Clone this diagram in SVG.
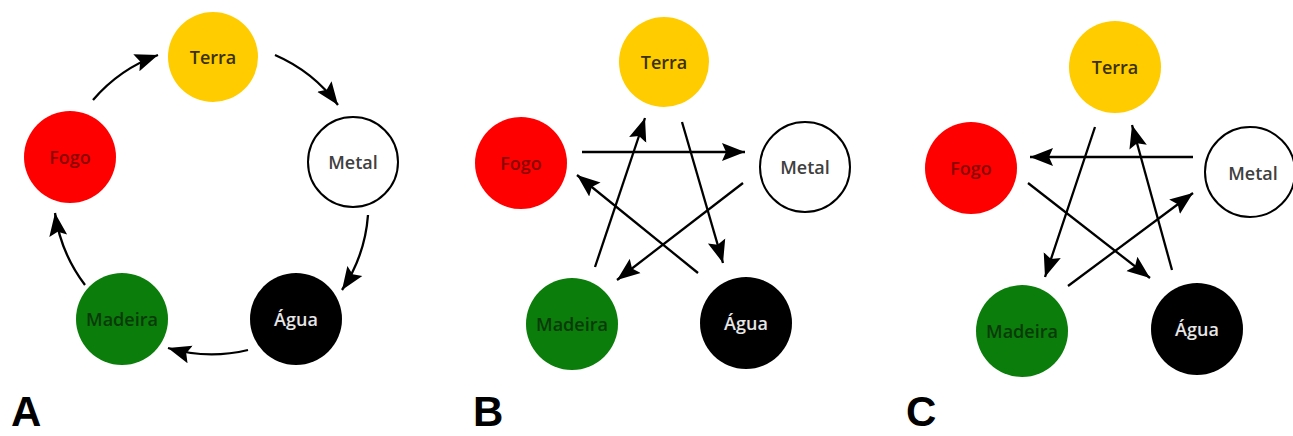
<svg xmlns="http://www.w3.org/2000/svg" width="1293" height="436" viewBox="0 0 1293 436">
<defs>
<marker id="ah" markerUnits="userSpaceOnUse" markerWidth="24" markerHeight="20" viewBox="0 0 24 20" refX="23" refY="10" orient="auto">
<path d="M0,1 L23,10 L0,19 L4,10 Z" fill="#000"/>
</marker>
</defs>
<style>
.n circle{stroke:none}
.terra{fill:#FFCC00}
.fogo{fill:#FF0000}
.metal{fill:#fff;stroke:#000 !important;stroke-width:2}
.agua{fill:#000}
.madeira{fill:#0A7D0A}
text{font-family:"Open Sans","Liberation Sans",sans-serif;font-size:18px;font-weight:600;text-anchor:middle;dominant-baseline:central}
.tt{fill:#3b3000}
.tf{fill:#8a0000}
.tm{fill:#404040}
.ta{fill:#e6e6e6}
.td{fill:#0a3a0a}
.c path,.c line{stroke:#000;stroke-width:2.3;fill:none;marker-end:url(#ah)}
.lbl{font-family:"Liberation Sans",Arial,sans-serif;font-size:42px;font-weight:bold;fill:#000;text-anchor:start;dominant-baseline:auto}
</style>

<!-- Panel A -->
<g id="A-terra" class="n"><circle class="terra" cx="213" cy="57" r="45"/><text class="tt" x="213" y="57">Terra</text></g>
<g id="A-metal" class="n"><circle class="metal" cx="353" cy="162" r="45"/><text class="tm" x="353" y="162">Metal</text></g>
<g id="A-agua" class="n"><circle class="agua" cx="296" cy="319" r="46"/><text class="ta" x="296" y="319">Água</text></g>
<g id="A-madeira" class="n"><circle class="madeira" cx="122" cy="319" r="46"/><text class="td" x="122" y="319">Madeira</text></g>
<g id="A-fogo" class="n"><circle class="fogo" cx="70" cy="157" r="46"/><text class="tf" x="70" y="157">Fogo</text></g>
<g id="A-connectors" class="c">
<path d="M93,100 A155,155 0 0 1 158,55"/>
<path d="M275,55 A155,155 0 0 1 338,105"/>
<path d="M368,215 A155,155 0 0 1 342,290"/>
<path d="M248,350 A155,155 0 0 1 168,348"/>
<path d="M85,285 A155,155 0 0 1 55,213"/>
</g>
<text class="lbl" x="11" y="426">A</text>

<!-- Panel B -->
<g id="B-terra" class="n"><circle class="terra" cx="664" cy="62" r="45"/><text class="tt" x="664" y="62">Terra</text></g>
<g id="B-metal" class="n"><circle class="metal" cx="805" cy="167" r="45"/><text class="tm" x="805" y="167">Metal</text></g>
<g id="B-agua" class="n"><circle class="agua" cx="746" cy="323" r="46"/><text class="ta" x="746" y="323">Água</text></g>
<g id="B-madeira" class="n"><circle class="madeira" cx="572" cy="324" r="46"/><text class="td" x="572" y="324">Madeira</text></g>
<g id="B-fogo" class="n"><circle class="fogo" cx="521" cy="163" r="46"/><text class="tf" x="521" y="163">Fogo</text></g>
<g id="B-connectors" class="c">
<line x1="582" y1="152" x2="745" y2="152"/>
<line x1="682" y1="122" x2="723" y2="263"/>
<line x1="743" y1="183" x2="617" y2="280"/>
<line x1="595" y1="267" x2="645" y2="118"/>
<line x1="698" y1="273" x2="577" y2="175"/>
</g>
<text class="lbl" x="473" y="426">B</text>

<!-- Panel C -->
<g id="C-terra" class="n"><circle class="terra" cx="1115" cy="67" r="46"/><text class="tt" x="1115" y="67">Terra</text></g>
<g id="C-metal" class="n"><circle class="metal" cx="1250" cy="172" r="45"/><text class="tm" x="1253" y="173">Metal</text></g>
<g id="C-agua" class="n"><circle class="agua" cx="1197" cy="329" r="46"/><text class="ta" x="1197" y="329">Água</text></g>
<g id="C-madeira" class="n"><circle class="madeira" cx="1022" cy="331" r="46"/><text class="td" x="1022" y="331">Madeira</text></g>
<g id="C-fogo" class="n"><circle class="fogo" cx="971" cy="168" r="46"/><text class="tf" x="971" y="168">Fogo</text></g>
<g id="C-connectors" class="c">
<line x1="1193" y1="157" x2="1030" y2="157"/>
<line x1="1095" y1="127" x2="1045" y2="277"/>
<line x1="1028" y1="183" x2="1150" y2="278"/>
<line x1="1068" y1="286" x2="1193" y2="193"/>
<line x1="1172" y1="270" x2="1132" y2="125"/>
</g>
<text class="lbl" x="906" y="426">C</text>
</svg>
